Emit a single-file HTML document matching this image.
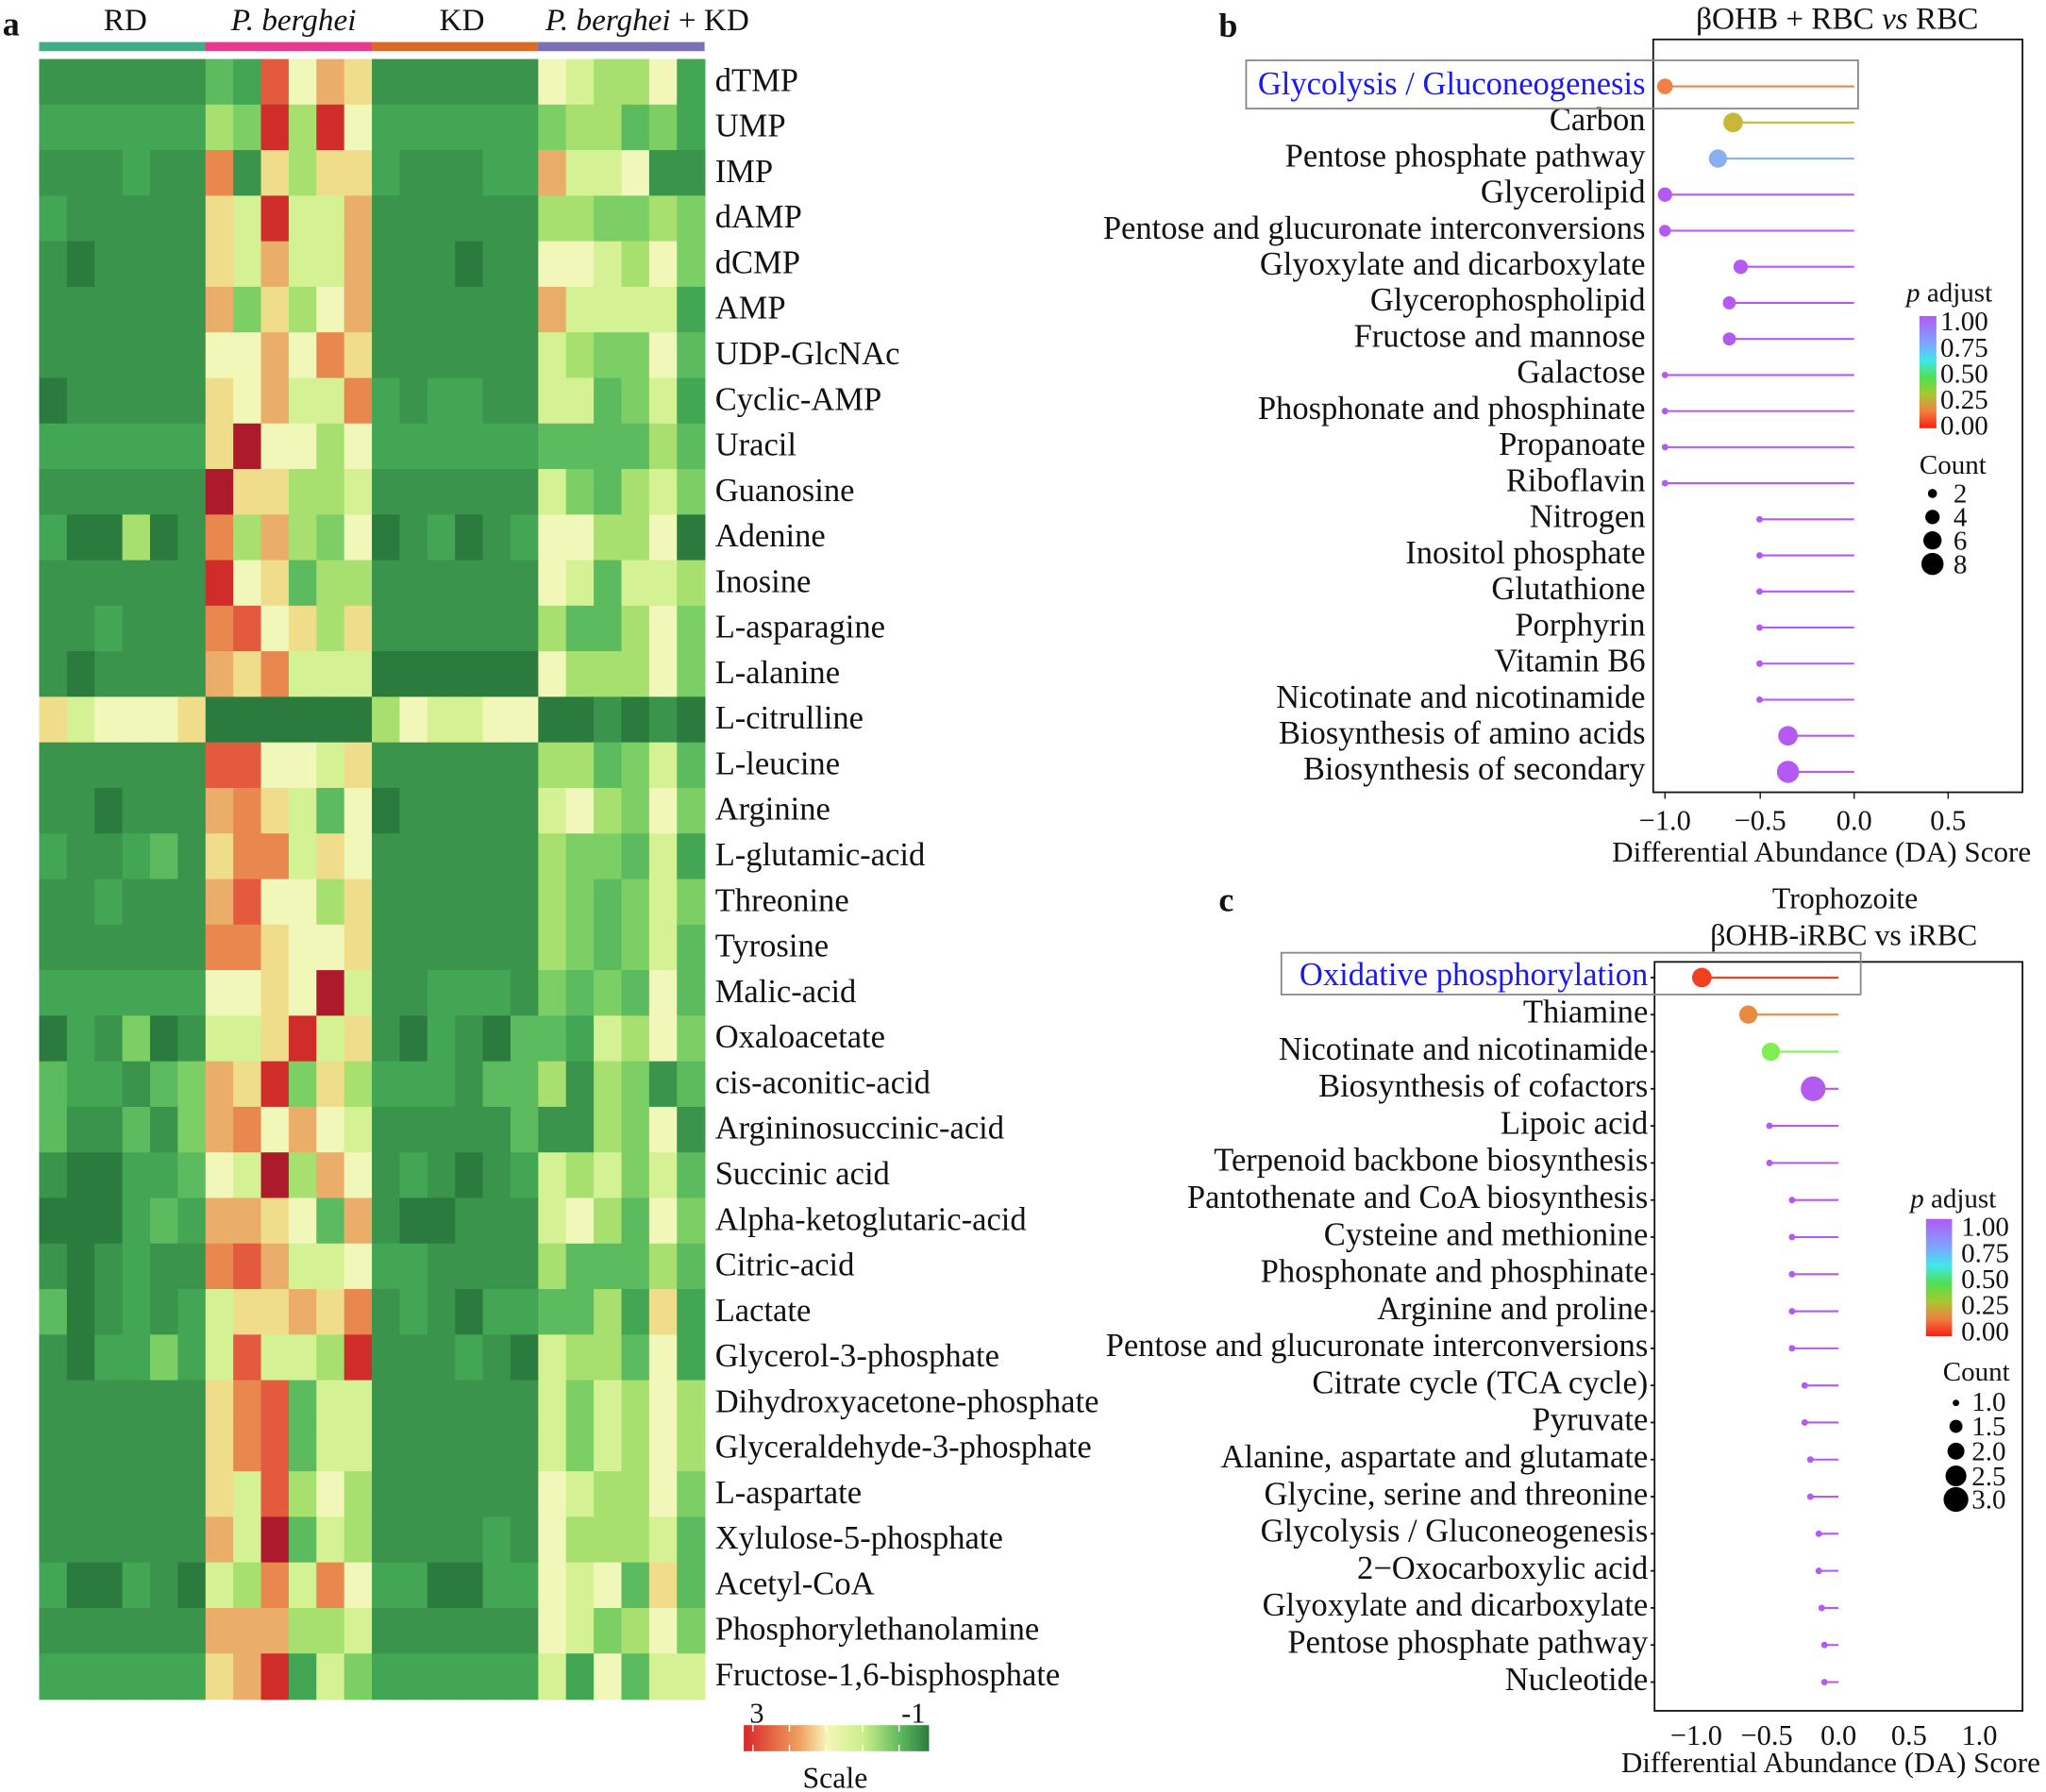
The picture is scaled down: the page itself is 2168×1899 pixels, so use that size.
<!DOCTYPE html>
<html><head><meta charset="utf-8"><style>
html,body{margin:0;padding:0;background:#fff}
svg{display:block}
text{font-family:"Liberation Serif",serif;fill:#111}
</style></head><body>
<svg id="s" width="2168" height="1899" viewBox="0 0 1568 1373" xmlns="http://www.w3.org/2000/svg">
<defs>
<linearGradient id="hs" x1="0" x2="1" y1="0" y2="0">
<stop offset="0" stop-color="#d8262a"/><stop offset="0.3" stop-color="#f0a060"/><stop offset="0.45" stop-color="#f6f6b8"/><stop offset="0.65" stop-color="#c8ee88"/><stop offset="0.85" stop-color="#5cb85c"/><stop offset="1" stop-color="#2b7a3e"/>
</linearGradient>
<linearGradient id="pa" x1="0" x2="0" y1="0" y2="1">
<stop offset="0" stop-color="#b25af5"/><stop offset="0.25" stop-color="#7aa8ff"/><stop offset="0.4" stop-color="#40e8e8"/><stop offset="0.55" stop-color="#50e050"/><stop offset="0.7" stop-color="#a8c830"/><stop offset="0.85" stop-color="#f08040"/><stop offset="1" stop-color="#f82010"/>
</linearGradient>
</defs>
<g id="heat"></g>
<text x="2" y="27" font-size="26" font-weight="bold">a</text>
<text x="96" y="23" font-size="24" text-anchor="middle">RD</text>
<text x="225" y="23" font-size="24" text-anchor="middle" font-style="italic">P. berghei</text>
<text x="354" y="23" font-size="24" text-anchor="middle">KD</text>
<text x="418" y="23" font-size="24"><tspan font-style="italic">P. berghei</tspan> + KD</text>
<rect x="30" y="32" width="127" height="7" fill="#3fae84"/>
<rect x="157" y="32" width="128" height="7" fill="#e8388f"/>
<rect x="285" y="32" width="127" height="7" fill="#dd6a22"/>
<rect x="412" y="32" width="128" height="7" fill="#7b6fb8"/>
<rect x="570" y="1322" width="142" height="20" fill="url(#hs)"/>
<g stroke="#fff" stroke-width="1"><line x1="577" y1="1322" x2="577" y2="1327"/><line x1="605" y1="1322" x2="605" y2="1327"/><line x1="633" y1="1322" x2="633" y2="1327"/><line x1="661" y1="1322" x2="661" y2="1327"/><line x1="689" y1="1322" x2="689" y2="1327"/><line x1="577" y1="1337" x2="577" y2="1342"/><line x1="605" y1="1337" x2="605" y2="1342"/><line x1="633" y1="1337" x2="633" y2="1342"/><line x1="661" y1="1337" x2="661" y2="1342"/><line x1="689" y1="1337" x2="689" y2="1342"/></g>
<text x="580" y="1320" font-size="22" text-anchor="middle">3</text>
<text x="700" y="1320" font-size="22" text-anchor="middle">-1</text>
<text x="640" y="1370" font-size="23" text-anchor="middle">Scale</text>

<!-- panel b -->
<text x="934" y="28" font-size="26" font-weight="bold">b</text>
<text x="1408" y="22" font-size="24" text-anchor="middle">βOHB + RBC <tspan font-style="italic">vs</tspan> RBC</text>
<rect x="1267" y="30" width="283" height="577" fill="none" stroke="#111" stroke-width="1.3"/>
<g id="pb"></g>
<rect x="955" y="46" width="469" height="37" fill="none" stroke="#888" stroke-width="1.3"/>
<g font-size="22" text-anchor="middle"><text x="1276" y="636">−1.0</text><text x="1349" y="636">−0.5</text><text x="1421" y="636">0.0</text><text x="1493" y="636">0.5</text></g>
<g stroke="#111"><line x1="1276" y1="607" x2="1276" y2="612"/><line x1="1349" y1="607" x2="1349" y2="612"/><line x1="1421" y1="607" x2="1421" y2="612"/><line x1="1493" y1="607" x2="1493" y2="612"/></g>
<text x="1396" y="660" font-size="22.5" text-anchor="middle">Differential Abundance (DA) Score</text>
<text x="1461" y="231" font-size="21"><tspan font-style="italic">p</tspan> adjust</text>
<rect x="1471" y="242" width="13" height="86" fill="url(#pa)"/>
<g font-size="21"><text x="1487" y="253">1.00</text><text x="1487" y="273">0.75</text><text x="1487" y="293">0.50</text><text x="1487" y="313">0.25</text><text x="1487" y="333">0.00</text></g>
<text x="1471" y="363" font-size="21">Count</text>
<g fill="#000"><circle cx="1481" cy="378" r="3.5"/><circle cx="1481" cy="396" r="5.5"/><circle cx="1481" cy="414" r="7"/><circle cx="1481" cy="432" r="8.5"/></g>
<g font-size="21"><text x="1497" y="385">2</text><text x="1497" y="403">4</text><text x="1497" y="421">6</text><text x="1497" y="439">8</text></g>

<!-- panel c -->
<text x="934" y="698" font-size="26" font-weight="bold">c</text>
<text x="1414" y="696" font-size="23" text-anchor="middle">Trophozoite</text>
<text x="1413" y="724" font-size="23" text-anchor="middle">βOHB-iRBC vs iRBC</text>
<rect x="1268" y="737" width="282" height="574" fill="none" stroke="#111" stroke-width="1.3"/>
<g id="pc"></g>
<rect x="982" y="730" width="444" height="32" fill="none" stroke="#888" stroke-width="1.3"/>
<g font-size="22" text-anchor="middle"><text x="1300" y="1337">−1.0</text><text x="1354" y="1337">−0.5</text><text x="1409" y="1337">0.0</text><text x="1463" y="1337">0.5</text><text x="1517" y="1337">1.0</text></g>
<text x="1403" y="1358" font-size="22.5" text-anchor="middle">Differential Abundance (DA) Score</text>
<text x="1464" y="925" font-size="21"><tspan font-style="italic">p</tspan> adjust</text>
<rect x="1476" y="934" width="20" height="90" fill="url(#pa)"/>
<g font-size="21"><text x="1503" y="947">1.00</text><text x="1503" y="967">0.75</text><text x="1503" y="987">0.50</text><text x="1503" y="1007">0.25</text><text x="1503" y="1027">0.00</text></g>
<text x="1489" y="1058" font-size="21">Count</text>
<g fill="#000"><circle cx="1499" cy="1075" r="2.5"/><circle cx="1499" cy="1093" r="5"/><circle cx="1499" cy="1112" r="6.5"/><circle cx="1499" cy="1131" r="8"/><circle cx="1499" cy="1149" r="9.5"/></g>
<g font-size="21"><text x="1511" y="1081">1.0</text><text x="1511" y="1100">1.5</text><text x="1511" y="1119">2.0</text><text x="1511" y="1138">2.5</text><text x="1511" y="1156">3.0</text></g>
</svg>
<script>
var NS="http://www.w3.org/2000/svg";
function el(p,t,a,txt){var e=document.createElementNS(NS,t);for(var k in a)e.setAttribute(k,a[k]);if(txt!=null)e.textContent=txt;p.appendChild(e);return e;}
var C={D:"#2b7a3e",g:"#3a944b",m:"#42a655",l:"#5bbb5e",n:"#7ccf65",y:"#a8e070",p:"#d4f294",w:"#f0f7b8",c:"#f0dd8c",o:"#eaae6a",O:"#e8874e",r:"#e45a3e",R:"#d02c2a",K:"#ad1a2c"};
var rows=[
["dTMP","gggggg","lmrwoc","gggggg","wpyywm"],
["UMP","mmmmmm","ynRyRw","mmmmmm","nyylnm"],
["IMP","gggmgg","Ogcycc","mgggmm","oppwgg"],
["dAMP","mggggg","cpRppo","gggggg","yynnyn"],
["dCMP","gDgggg","cpoppo","gggDgg","wwpywn"],
["AMP","gggggg","oncywo","gggggg","oppppm"],
["UDP-GlcNAc","gggggg","wwowOc","gggggg","pynnwl"],
["Cyclic-AMP","Dggggg","cwoppO","mgmmgg","pplnpm"],
["Uracil","mmmmmm","cKwwyw","mmmmmm","llllyl"],
["Guanosine","gggggg","Kccyyp","gggggg","pnlypn"],
["Adenine","mDDyDg","Oyoynw","DgmDgm","wwyywD"],
["Inosine","gggggg","Rwclyy","gggggg","wplppy"],
["L-asparagine","ggmggg","Orwcyc","gggggg","yllywn"],
["L-alanine","gDgggg","ocOppp","DDDDDD","wyyywn"],
["L-citrulline","cpwwwc","DDDDDD","ywppww","DDgDgD"],
["L-leucine","gggggg","rrwwpc","gggggg","yylnpl"],
["Arginine","ggDggg","oOcplw","Dggggg","pwynwn"],
["L-glutamic-acid","mggmlg","cOOpcw","gggggg","ynnlpm"],
["Threonine","ggmggg","orwwyc","gggggg","ynlnpn"],
["Tyrosine","gggggg","OOcwwc","gggggg","ynlnpl"],
["Malic-acid","mmmmmm","wwcwKp","ggmmmg","nlnlwl"],
["Oxaloacetate","DmgnDg","ppcRpc","gDmgDl","lmpywn"],
["cis-aconitic-acid","lmmgln","ocRncy","mmmgll","ygyngl"],
["Argininosuccinic-acid","lgglgn","oOwowp","gggggl","ggynwg"],
["Succinic acid","gDDmml","wpKyow","gmgDgm","pypnpl"],
["Alpha-ketoglutaric-acid","DDDmlm","oocwlo","gDDggg","pwylwn"],
["Citric-acid","gDgmgg","Oroppw","mmgggg","ylllyl"],
["Lactate","lDgmgm","pccocO","gmgDmm","llymcm"],
["Glycerol-3-phosphate","gDmmnm","prppyR","gggmgD","pyylwm"],
["Dihydroxyacetone-phosphate","gggggg","cOrlpp","gggggg","pnpywy"],
["Glyceraldehyde-3-phosphate","gggggg","cOrlpp","gggggg","pnpywy"],
["L-aspartate","gggggg","cprywy","gggggg","wpyywn"],
["Xylulose-5-phosphate","gggggg","opKlpy","ggggmg","wyyypl"],
["Acetyl-CoA","mDDmgD","pyOpOw","mmDDmm","wpwlcl"],
["Phosphorylethanolamine","gggggg","oooyyp","gggggg","wpnywn"],
["Fructose-1,6-bisphosphate","mmmmmm","coRmpn","mmmmmm","pmwlpp"]];
var h=document.getElementById("heat"),x0=30,y0=45,cw=510/24,rh=1257/36;
rows.forEach(function(r,i){var s=r[1]+r[2]+r[3]+r[4];
for(var j=0;j<24;j++){el(h,"rect",{x:(x0+j*cw).toFixed(2),y:(y0+i*rh).toFixed(2),width:(cw+0.6).toFixed(2),height:(rh+0.6).toFixed(2),fill:C[s[j]]||"#3a944b"});}
el(h,"text",{x:548,y:(y0+i*rh+rh/2+7).toFixed(1),"font-size":25},r[0]);});
var P="#b45af2";
var b=[["Glycolysis / Gluconeogenesis",-1,"#f0804a",6,1],["Carbon",-0.64,"#c8b838",7.5],["Pentose phosphate pathway",-0.72,"#88b0f0",7],["Glycerolipid",-1,P,5.5],["Pentose and glucuronate interconversions",-1,P,4.5],["Glyoxylate and dicarboxylate",-0.6,P,5.5],["Glycerophospholipid",-0.66,P,5],["Fructose and mannose",-0.66,P,5],["Galactose",-1,P,2.5],["Phosphonate and phosphinate",-1,P,2.5],["Propanoate",-1,P,2.5],["Riboflavin",-1,P,2.5],["Nitrogen",-0.5,P,2.5],["Inositol phosphate",-0.5,P,2.5],["Glutathione",-0.5,P,2.5],["Porphyrin",-0.5,P,2.5],["Vitamin B6",-0.5,P,2.5],["Nicotinate and nicotinamide",-0.5,P,2.5],["Biosynthesis of amino acids",-0.35,P,7.5],["Biosynthesis of secondary",-0.35,P,8.5]];
var g=document.getElementById("pb");
b.forEach(function(d,i){var y=66+i*27.65,x=1421+d[1]*145;
el(g,"line",{x1:x,y1:y,x2:1421,y2:y,stroke:d[2],"stroke-width":1.5});
el(g,"circle",{cx:x,cy:y,r:d[3],fill:d[2]});
var t=el(g,"text",{x:1261,y:y+6,"font-size":25,"text-anchor":"end"},d[0]);if(d[4])t.setAttribute("style","fill:#1a1aee");});
var c=[["Oxidative phosphorylation",-0.97,"#f04020",7.5,1],["Thiamine",-0.64,"#e88a40",7],["Nicotinate and nicotinamide",-0.48,"#80f050",7],["Biosynthesis of cofactors",-0.18,P,9.5],["Lipoic acid",-0.49,P,2.5],["Terpenoid backbone biosynthesis",-0.49,P,2.5],["Pantothenate and CoA biosynthesis",-0.33,P,2.5],["Cysteine and methionine",-0.33,P,2.5],["Phosphonate and phosphinate",-0.33,P,2.5],["Arginine and proline",-0.33,P,2.5],["Pentose and glucuronate interconversions",-0.33,P,2.5],["Citrate cycle (TCA cycle)",-0.24,P,2.5],["Pyruvate",-0.24,P,2.5],["Alanine, aspartate and glutamate",-0.2,P,2.5],["Glycine, serine and threonine",-0.2,P,2.5],["Glycolysis / Gluconeogenesis",-0.14,P,2.5],["2\u2212Oxocarboxylic acid",-0.14,P,2.5],["Glyoxylate and dicarboxylate",-0.12,P,2.5],["Pentose phosphate pathway",-0.1,P,2.5],["Nucleotide",-0.1,P,2.5]];
var gc=document.getElementById("pc");
c.forEach(function(d,i){var y=749+i*28.42,x=1409+d[1]*108;
el(gc,"line",{x1:1265,y1:y,x2:1268,y2:y,stroke:"#111","stroke-width":1.3});
el(gc,"line",{x1:x,y1:y,x2:1409,y2:y,stroke:d[2],"stroke-width":1.5});
el(gc,"circle",{cx:x,cy:y,r:d[3],fill:d[2]});
var t=el(gc,"text",{x:1263,y:y+6,"font-size":25,"text-anchor":"end"},d[0]);if(d[4])t.setAttribute("style","fill:#1a1aee");});
</script>
</body></html>
